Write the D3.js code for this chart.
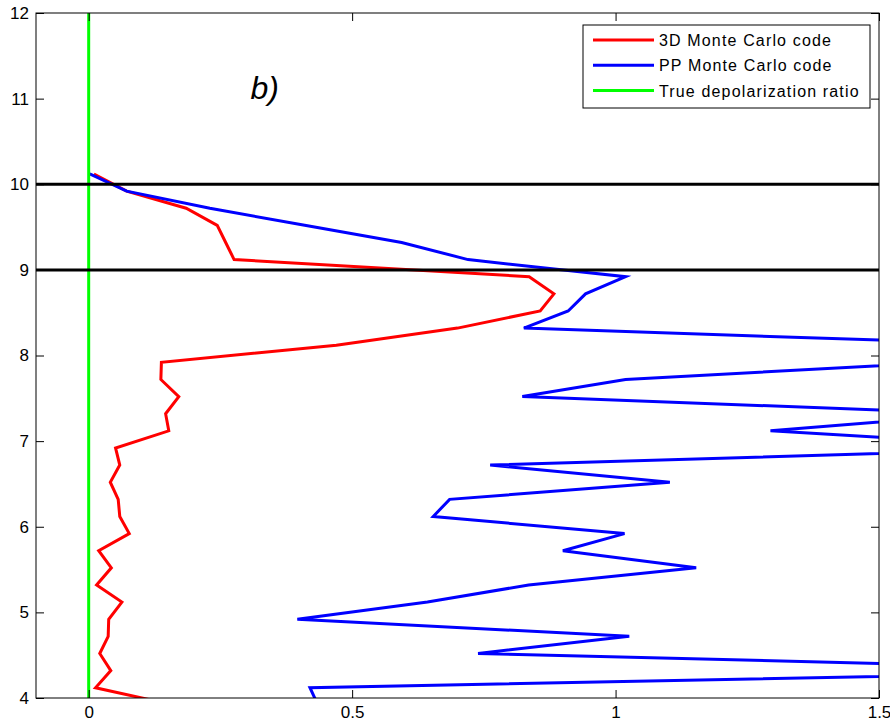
<!DOCTYPE html>
<html>
<head>
<meta charset="utf-8">
<script src="https://cdn.jsdelivr.net/npm/d3@7"></script>
<style>
  body { margin: 0; background: #fff; }
  text { font-family: "Liberation Sans", Arial, sans-serif; }
</style>
</head>
<body>
<div id="my_viz"></div>
<script>
var width = 890,
    height = 720;

// altitude (km) of each profile sample
var altitudes = [3.92, 4.12, 4.32, 4.52, 4.72, 4.92, 5.12, 5.32, 5.52, 5.72, 5.92,
    6.12, 6.32, 6.52, 6.72, 6.92, 7.12, 7.32, 7.52, 7.72, 7.92,
    8.12, 8.32, 8.52, 8.72, 8.92, 9.12, 9.32, 9.52, 9.72, 9.92, 10.12];

var ratio3D = [0.16, 0.013, 0.042, 0.021, 0.037, 0.038, 0.063, 0.015, 0.043, 0.019, 0.077,
    0.059, 0.056, 0.041, 0.059, 0.051, 0.152, 0.146, 0.171, 0.137, 0.138,
    0.47, 0.70, 0.857, 0.883, 0.836, 0.276, 0.26, 0.244, 0.185, 0.072, 0.01];

var ratioPP = [0.435, 0.42, 2.05, 0.739, 1.026, 0.396, 0.643, 0.835, 1.153, 0.90, 1.017,
    0.654, 0.685, 1.103, 0.762, 1.85, 1.294, 1.69, 0.823, 1.019, 1.62,
    1.79, 0.826, 0.910, 0.943, 1.019, 0.72, 0.594, 0.41, 0.23, 0.072, 0.002];

var trueAltitudes = [3.9, 12.1];
var trueRatio = [0, 0];

var cloudBounds = [9, 10];

var xTicks = [0, 0.5, 1, 1.5];
var yTicks = [4, 5, 6, 7, 8, 9, 10, 11, 12];

var legendNames = ["3D Monte Carlo code", "PP Monte Carlo code", "True depolarization ratio"];
var colors = ["#ff0000", "#0000ff", "#00ff00"];

var padL = 36, padR = 879, padT = 13, padB = 698;

var x = d3.scaleLinear().domain([-0.1, 1.5]).range([padL, padR]);
var y = d3.scaleLinear().domain([4, 12]).range([padB, padT]);

var svg = d3.select("#my_viz")
    .append("svg")
    .attr("width", width)
    .attr("height", height)
    .style("background", "white");

svg.append("clipPath").attr("id", "plotclip")
    .append("rect")
    .attr("x", padL).attr("y", padT)
    .attr("width", padR - padL).attr("height", padB - padT);

var plot = svg.append("g").attr("clip-path", "url(#plotclip)");

var line = d3.line()
    .x(function (d) { return x(d[0]); })
    .y(function (d) { return y(d[1]); });

var series = [
    d3.zip(ratio3D, altitudes),
    d3.zip(ratioPP, altitudes),
    d3.zip(trueRatio, trueAltitudes)
];

plot.selectAll("path.profile").data(series)
    .enter().append("path")
    .attr("class", "profile")
    .attr("d", line)
    .attr("fill", "none")
    .attr("stroke", function (d, i) { return colors[i]; })
    .attr("stroke-width", 3)
    .attr("stroke-linejoin", "miter");

// cloud base and top
plot.selectAll("line.cloud").data(cloudBounds)
    .enter().append("line")
    .attr("class", "cloud")
    .attr("x1", padL).attr("x2", padR)
    .attr("y1", function (d) { return y(d); })
    .attr("y2", function (d) { return y(d); })
    .attr("stroke", "black")
    .attr("stroke-width", 3);

// axes, matlab style ticks pointing inward
var fmt = function (d) { return String(d); };

var axB = svg.append("g").attr("transform", "translate(0," + padB + ")")
    .call(d3.axisBottom(x).tickValues(xTicks).tickFormat(fmt)
        .tickSizeInner(-8).tickSizeOuter(0).tickPadding(8));
var axT = svg.append("g").attr("transform", "translate(0," + padT + ")")
    .call(d3.axisTop(x).tickValues(xTicks).tickFormat("")
        .tickSizeInner(-8).tickSizeOuter(0));
var axL = svg.append("g").attr("transform", "translate(" + padL + ",0)")
    .call(d3.axisLeft(y).tickValues(yTicks).tickFormat(fmt)
        .tickSizeInner(-8).tickSizeOuter(0).tickPadding(7));
var axR = svg.append("g").attr("transform", "translate(" + padR + ",0)")
    .call(d3.axisRight(y).tickValues(yTicks).tickFormat("")
        .tickSizeInner(-8).tickSizeOuter(0));

[axB, axT, axL, axR].forEach(function (a) {
    a.select(".domain").remove();
    a.selectAll("line").attr("stroke", "black");
    a.selectAll("text")
        .attr("fill", "black")
        .style("font-size", "17px")
        .style("font-family", "'Liberation Sans', Arial, sans-serif");
});

svg.append("rect")
    .attr("x", padL).attr("y", padT)
    .attr("width", padR - padL).attr("height", padB - padT)
    .attr("fill", "none")
    .attr("stroke", "black")
    .attr("stroke-width", 1);

svg.append("text")
    .text("b)")
    .attr("x", x(0.307))
    .attr("y", y(10.99))
    .attr("font-size", 32)
    .attr("font-style", "italic")
    .attr("fill", "black");

// legend
var legend = svg.append("g").attr("transform", "translate(583, 25)");

legend.append("rect")
    .attr("width", 287)
    .attr("height", 83)
    .attr("fill", "white")
    .attr("stroke", "black")
    .attr("stroke-width", 1);

var rows = legend.selectAll(".legends").data(legendNames)
    .enter().append("g")
    .classed("legends", true)
    .attr("transform", function (d, i) {
        return "translate(0," + (15 + i * 25.3) + ")";
    });

rows.append("line")
    .attr("x1", 10).attr("x2", 71)
    .attr("stroke", function (d, i) { return colors[i]; })
    .attr("stroke-width", 3);

rows.append("text")
    .text(function (d) { return d; })
    .attr("x", 76)
    .attr("y", 6)
    .attr("font-size", 16)
    .attr("letter-spacing", "1.15px")
    .attr("fill", "black");
</script>
</body>
</html>
